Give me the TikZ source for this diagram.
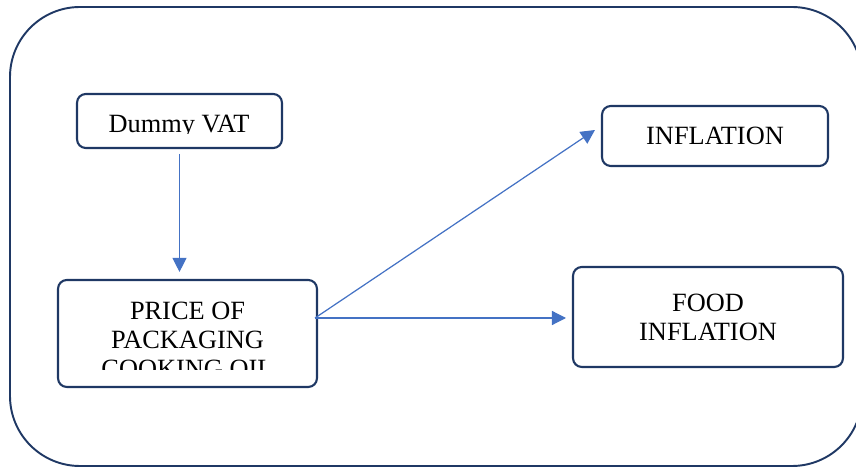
\documentclass[tikz,border=0pt]{standalone}
\usepackage{fontspec}
\setmainfont{Liberation Serif}
\usetikzlibrary{arrows.meta,calc}
\definecolor{navy}{HTML}{1F3864}
\definecolor{linkblue}{HTML}{4472C4}
\tikzset{
	box/.style={draw=navy,line width=1.2pt,rounded corners=5pt,inner sep=0pt},
	txt/.style={inner sep=0pt,align=center},
	arr/.style={draw=linkblue,line width=0.7pt,-{Triangle[length=8pt,width=8pt]}}
}

\begin{document}
\begin{tikzpicture}[x=0.02cm,y=-0.02cm,font=\fontsize{15}{16.5}\selectfont]
	\useasboundingbox (0,0) rectangle (856,469);
	\draw[navy,line width=1.1pt,rounded corners=1.4cm] (10,7) rectangle (862,466);

	\node[box,minimum width=4.1cm,minimum height=1.08cm] (vat) at (179.5,121) {};
	\node[box,minimum width=5.18cm,minimum height=2.14cm] (price) at (187.5,333.5) {};
	\node[box,minimum width=4.52cm,minimum height=1.2cm] (infl) at (715,136) {INFLATION};
	\node[box,minimum width=5.4cm,minimum height=2cm,align=center] (food) at (708,317) {FOOD\\INFLATION};

\begin{scope}
	\clip (vat.north west) rectangle (282,134);
	\node[txt,anchor=base] (vattext) at (179,133) {Dummy VAT};
\end{scope}
\begin{scope}
	\clip (price.north west) rectangle (317,370);
	\node[txt] (pricetext) at (187.5,340) {PRICE OF\\PACKAGING\\COOKING OIL};
\end{scope}

	\coordinate (fork) at (315,318);
	\draw[arr,shorten <=2.8pt,shorten >=4pt] (vat.south) -- (vat.south |- price.north);
	\draw[arr] (fork) -- ($(infl.west)+(-6,-6)$);
	\draw[arr,shorten >=3.4pt] (fork) -- (fork -| food.west);
\end{tikzpicture}
\end{document}
